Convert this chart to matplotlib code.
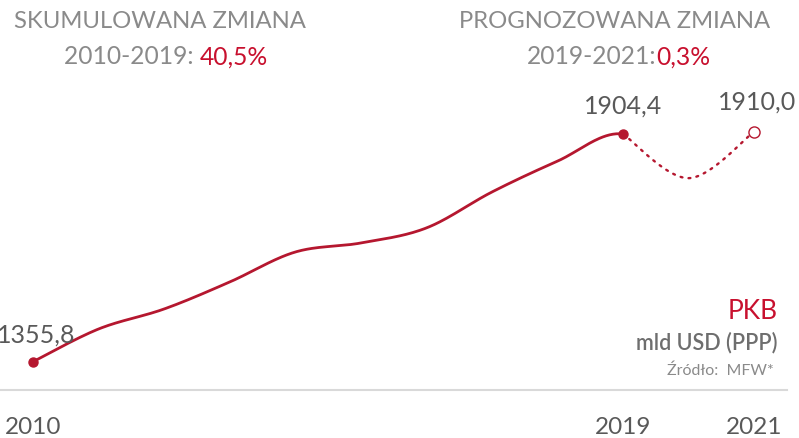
import numpy as np
import matplotlib
matplotlib.use("Agg")
import matplotlib.pyplot as plt

plt.rcParams['font.family'] = ['Lato', 'DejaVu Sans']

years_hist = [2010, 2011, 2012, 2013, 2014, 2015, 2016, 2017, 2018, 2019]
gdp_hist = [1355.8, 1434.6, 1482.8, 1547.8, 1620.0, 1641.8, 1678.0, 1764.6, 1839.0, 1904.4]
years_fc = [2019, 2020, 2021]
gdp_fc = [1904.4, 1798.0, 1910.0]
tick_years = [2010, 2019, 2021]
tick_labels = ["2010", "2019", "2021"]

RED = "#B5172F"
TXT_RED = "#C8102E"
GREY = "#8A8A8A"
DARK = "#595959"


def catmull(xs, ys, n=40):
    xs = np.asarray(xs, float)
    ys = np.asarray(ys, float)
    px = np.concatenate([[xs[0]], xs, [xs[-1]]])
    py = np.concatenate([[ys[0]], ys, [ys[-1]]])
    ox, oy = [], []
    for i in range(1, len(px) - 2):
        t = np.linspace(0, 1, n)
        p0x, p1x, p2x, p3x = px[i-1], px[i], px[i+1], px[i+2]
        p0y, p1y, p2y, p3y = py[i-1], py[i], py[i+1], py[i+2]
        b1x = p1x + (p2x - p0x) / 6
        b1y = p1y + (p2y - p0y) / 6
        b2x = p2x - (p3x - p1x) / 6
        b2y = p2y - (p3y - p1y) / 6
        bx = (1-t)**3*p1x + 3*(1-t)**2*t*b1x + 3*(1-t)*t**2*b2x + t**3*p2x
        by = (1-t)**3*p1y + 3*(1-t)**2*t*b1y + 3*(1-t)*t**2*b2y + t**3*p2y
        ox.append(bx); oy.append(by)
    return np.concatenate(ox), np.concatenate(oy)


fig = plt.figure(figsize=(7.99, 4.39), dpi=100)
ax = fig.add_axes([0, 0, 1, 1])
ax.set_xlim(2009.497, 2021.684)
ax.set_ylim(1172.0, 2229.6)
ax.axis('off')

all_years = years_hist + years_fc[1:]
all_vals = gdp_hist + gdp_fc[1:]
sx, sy = catmull(all_years, all_vals)
mask = sx <= years_hist[-1] + 1e-9
ax.plot(sx[mask], sy[mask], color=RED, lw=2.0, solid_capstyle='round')
fx, fy = catmull(years_fc, gdp_fc)
ax.plot(fx, fy, color=RED, lw=1.7, linestyle=(0, (0.8, 2.6)), dash_capstyle='round')

ax.plot([years_hist[0], years_hist[-1]], [gdp_hist[0], gdp_hist[-1]], 'o',
        color=RED, ms=6.5, mec=RED)
ax.plot([years_fc[-1]], [gdp_fc[-1]], 'o', color=RED, mfc='white', ms=8, mew=1.0)

ax.plot([0, 0.985], [0.1093, 0.1093], transform=ax.transAxes, color="#D9D9D9", lw=1.5)

def fmt(v):
    return f"{v:.1f}".replace('.', ',')

ax.annotate(fmt(gdp_hist[0]), (years_hist[0], gdp_hist[0]), xytext=(2, 20),
            textcoords='offset points', ha='center', va='center', fontsize=18, color=DARK)
ax.annotate(fmt(gdp_hist[-1]), (years_hist[-1], gdp_hist[-1]), xytext=(0, 21),
            textcoords='offset points', ha='center', va='center', fontsize=18, color=DARK)
ax.annotate(fmt(gdp_fc[-1]), (years_fc[-1], gdp_fc[-1]), xytext=(2, 22),
            textcoords='offset points', ha='center', va='center', fontsize=18, color=DARK)

for yr, lab in zip(tick_years, tick_labels):
    ax.text(yr, 0.027, lab, transform=ax.get_xaxis_transform(), ha='center', va='center',
            fontsize=17.5, color=DARK)

HS = 17.2
fig.text(160/799, 1 - 22/439, "SKUMULOWANA ZMIANA", ha='center', va='center',
         fontsize=HS, color=GREY)
fig.text(615/799, 1 - 22/439, "PROGNOZOWANA ZMIANA", ha='center', va='center',
         fontsize=HS, color=GREY)

def two_part(xc, yc, a, b):
    t1 = fig.text(0, 0, a, fontsize=17.7, color=GREY, va='center')
    t2 = fig.text(0, 0, b, fontsize=17.7, color=TXT_RED, va='center')
    fig.canvas.draw()
    r = fig.canvas.get_renderer()
    w1 = t1.get_window_extent(r).width
    w2 = t2.get_window_extent(r).width
    W = fig.bbox.width
    x0 = xc - (w1 + w2) / 2
    t1.set_position((x0 / W, yc))
    t2.set_position(((x0 + w1) / W, yc))

two_part(166, 1 - 57/439, "2010-2019: ", "40,5%")
two_part(619, 1 - 57/439, "2019-2021:", "0,3%")

fig.text(778/799, 1 - 312/439, "PKB", ha='right', va='center', fontsize=19, color=TXT_RED)
fig.text(778/799, 1 - 343/439, "mld USD (PPP)", ha='right', va='center', fontsize=15.5,
         color="#6E6E6E", fontweight='semibold')
fig.text(774/799, 1 - 371/439, "Źródło:  MFW*", ha='right', va='center', fontsize=11.5,
         color=GREY)

fig.savefig("out.png", dpi=100)
